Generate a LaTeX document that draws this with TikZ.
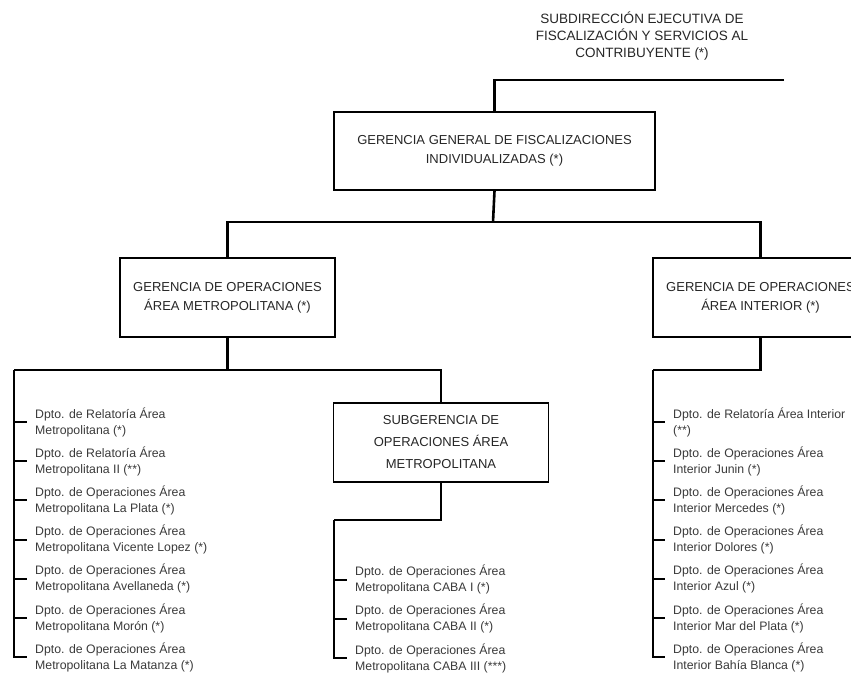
\documentclass[tikz,border=0pt]{standalone}
\usepackage{fontspec}
\setmainfont{Liberation Sans}
\usetikzlibrary{positioning, calc}

\definecolor{gristexto}{HTML}{3A3A3A}

\tikzset{
    box/.style={draw, line width=1.8pt, minimum width=215pt, minimum height=79pt,
        align=center, inner sep=0pt, text=black!85, font=\fontsize{13}{19}\selectfont},
    dpto/.style={anchor=west, align=left, inner sep=0pt, text=gristexto,
        font=\fontsize{12.3}{16}\selectfont},
    bus/.style={line width=2.6pt},
    rama/.style={line width=2pt}
}

\begin{document}
\begin{tikzpicture}[x=1pt, y=-1pt]
        \useasboundingbox (0,0) rectangle (851,674);

        % cabecera
        \node[align=center, text=black!85, font=\fontsize{13.5}{17}\selectfont] (sub-dir) at (642,36)
            {SUBDIRECCIÓN EJECUTIVA DE\\FISCALIZACIÓN Y SERVICIOS AL\\CONTRIBUYENTE (*)};
        \coordinate (topend) at (784,80);

        % gerencias
        \node[box, minimum width=321pt, minimum height=78pt] (gg) at (494.5,151)
            {GERENCIA GENERAL DE FISCALIZACIONES\\INDIVIDUALIZADAS (*)};
        \node[box] (gom) at (227.5,297.5) {GERENCIA DE OPERACIONES\\ÁREA METROPOLITANA (*)};
        \node[box] (goi) at (760.5,297.5) {GERENCIA DE OPERACIONES\\ÁREA INTERIOR (*)};
        \node[box, font=\fontsize{13}{22}\selectfont] (sub) at (441,442.5)
            {SUBGERENCIA DE\\OPERACIONES ÁREA\\METROPOLITANA};

        \coordinate (gbus) at (493,222);
        \coordinate (lbus) at (14,370);
        \coordinate (mbus) at (334,520);
        \coordinate (rbus) at (653,370);

        % departamentos
        \foreach \t [count=\i] in {
            {Dpto. de Relatoría Área\\Metropolitana (*)},
            {Dpto. de Relatoría Área\\Metropolitana II (**)},
            {Dpto. de Operaciones Área\\Metropolitana La Plata (*)},
            {Dpto. de Operaciones Área\\Metropolitana Vicente Lopez (*)},
            {Dpto. de Operaciones Área\\Metropolitana Avellaneda (*)},
            {Dpto. de Operaciones Área\\Metropolitana Morón (*)},
            {Dpto. de Operaciones Área\\Metropolitana La Matanza (*)}}
            \node[dpto] (dL\i) at (35,{422+39.2*(\i-1)}) {\t};

        \foreach \t [count=\i] in {
            {Dpto. de Operaciones Área\\Metropolitana CABA I (*)},
            {Dpto. de Operaciones Área\\Metropolitana CABA II (*)},
            {Dpto. de Operaciones Área\\Metropolitana CABA III (***)}}
            \node[dpto] (dM\i) at (355,{579.6+39.2*(\i-1)}) {\t};

        \foreach \t [count=\i] in {
            {Dpto. de Relatoría Área Interior\\(**)},
            {Dpto. de Operaciones Área\\Interior Junin (*)},
            {Dpto. de Operaciones Área\\Interior Mercedes (*)},
            {Dpto. de Operaciones Área\\Interior Dolores (*)},
            {Dpto. de Operaciones Área\\Interior Azul (*)},
            {Dpto. de Operaciones Área\\Interior Mar del Plata (*)},
            {Dpto. de Operaciones Área\\Interior Bahía Blanca (*)}}
            \node[dpto] (dR\i) at (673,{422+39.2*(\i-1)}) {\t};

        % conexiones
        \draw[bus] (topend) -| (gg.north);
        \draw[bus] (gg.south) -- (gbus);
        \draw[bus] (gom.north) |- (gbus) -| (goi.north);
        \draw[bus] (gom.south) -- (gom.south |- lbus);
        \draw[bus] (lbus) -| (sub.north);
        \draw[bus] (sub.south) |- (mbus);
        \draw[bus] (goi.south) |- (rbus);

        \draw[rama] (lbus) |- ([xshift=-8pt]dL7.west);
        \draw[rama] (mbus) |- ([xshift=-8pt]dM3.west);
        \draw[rama] (rbus) |- ([xshift=-8pt]dR7.west);
        \foreach \i in {1,...,6} {
            \draw[rama] (lbus |- dL\i.west) -- ([xshift=-8pt]dL\i.west);
            \draw[rama] (rbus |- dR\i.west) -- ([xshift=-8pt]dR\i.west);
        }
        \foreach \i in {1,2}
            \draw[rama] (mbus |- dM\i.west) -- ([xshift=-8pt]dM\i.west);
\end{tikzpicture}
\end{document}
